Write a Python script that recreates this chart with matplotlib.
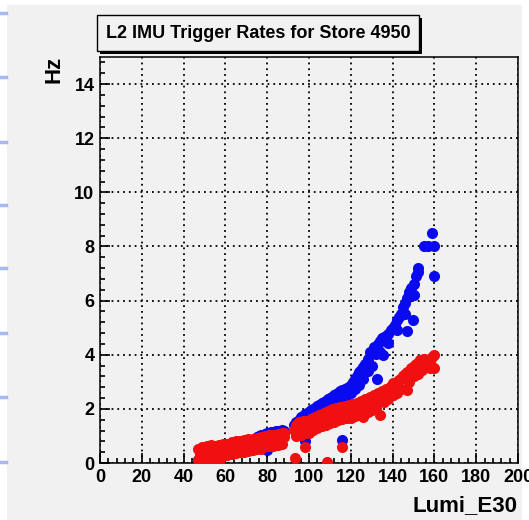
import matplotlib
matplotlib.use('Agg')
import matplotlib.pyplot as plt
from matplotlib.patches import Rectangle
from matplotlib.lines import Line2D
from matplotlib.ticker import MultipleLocator

plt.rcParams['font.family'] = ['Liberation Sans', 'DejaVu Sans']
plt.rcParams['font.weight'] = 'bold'

title = 'L2 IMU Trigger Rates for Store 4950'
x_title = 'Lumi_E30'
y_title = 'Hz'

# blue series
blue_x = [47, 48, 49, 50, 51, 52, 53, 54, 55, 56, 57, 58, 59, 60, 62, 64, 66, 68, 70, 72,
          74, 75, 76, 77, 78, 79, 80, 80, 81, 82, 83, 84, 85, 86, 87, 88,
          93, 94, 95, 96, 97, 98, 99, 100, 101, 102, 103, 104, 105, 106, 107, 108, 109, 110,
          111, 112, 113, 114, 115, 116, 117, 118, 119, 120, 121, 122, 123, 124, 125, 126, 127,
          128, 129, 130, 131, 132, 132.4, 133, 134, 135, 135.6, 136, 137, 138, 139, 140, 141,
          142, 143, 144, 145, 146, 146.7, 147, 148, 149, 149.6, 150, 151, 152, 152,
          155, 157, 159, 160, 160, 98, 115.6,
          94, 96, 98, 100, 102, 104, 106, 108, 110, 112, 114, 116, 118, 120, 122, 124, 126,
          128, 130, 134, 138, 142, 146, 150]
blue_y = [0.10, 0.05, 0.15, 0.08, 0.20, 0.25, 0.30, 0.35, 0.35, 0.40, 0.42, 0.45, 0.48, 0.50,
          0.55, 0.60, 0.65, 0.70, 0.75, 0.80, 0.90, 0.95, 1.00, 1.02, 1.05, 1.08, 1.10, 0.48,
          1.12, 1.15, 1.15, 1.18, 1.20, 1.20, 1.22, 1.20,
          1.40, 1.52, 1.60, 1.70, 1.74, 1.80, 1.84, 1.88, 1.95, 2.00, 2.05, 2.10, 2.15, 2.20,
          2.25, 2.30, 2.35, 2.40, 2.44, 2.50, 2.55, 2.60, 2.65, 2.70, 2.75, 2.78, 2.82, 2.90,
          3.00, 3.10, 3.20, 3.35, 3.45, 3.55, 3.65, 3.85, 4.10, 4.05, 4.30, 4.04, 3.10, 4.40,
          4.50, 4.60, 4.00, 4.65, 4.70, 4.78, 4.90, 5.00, 5.10, 5.27, 5.40, 5.50, 5.75, 5.90,
          4.87, 6.10, 6.30, 6.45, 5.30, 6.60, 6.90, 7.20, 7.05,
          8.00, 8.00, 8.50, 8.00, 6.90, 0.80, 0.85,
          1.40, 1.50, 1.62, 1.60, 1.72, 1.85, 1.95, 2.05, 2.12, 2.20, 2.30, 2.40, 2.50, 2.60,
          2.75, 2.90, 3.10, 3.40, 3.60, 4.10, 4.45, 4.90, 5.50, 6.20]

# red series
red_x = [47, 49, 51, 53, 55, 57, 59, 61, 63, 65, 67, 69, 71, 73, 75, 77, 79, 81, 83, 85, 87, 88,
         48, 50, 52, 54, 56, 58, 60, 62, 64, 66, 68, 70, 72, 74, 76, 78, 80, 82, 84, 86, 88,
         47, 49, 51, 53, 55, 56, 57, 59, 61, 63, 65, 67, 69, 71, 73, 75, 77, 79, 81, 83, 85, 87,
         93, 94, 94, 95, 96, 96, 97, 98, 98, 99, 100, 100, 101, 102, 102, 103, 104, 104, 105,
         106, 106, 107, 108, 109, 110, 110, 111, 112, 113, 114, 115, 116, 117, 118, 119, 120,
         121, 122, 122.8, 124, 125, 126, 127, 128, 129, 130, 131, 132, 133, 134, 134, 135, 136,
         137, 138, 139, 140, 140.3, 141, 142, 143, 144, 145, 146, 146.7, 147, 148, 149, 150,
         151, 152, 153, 154, 155, 156, 157, 158, 159, 160, 160,
         94, 96, 98, 100, 102, 104, 106, 108, 110, 112, 114, 116, 118, 120, 122, 124, 128,
         130, 132, 136, 138, 140, 142, 144, 148, 150, 152, 154, 156, 158,
         95, 97, 99, 101, 103, 105, 107, 109, 111, 113, 115, 117, 119, 121, 123, 125, 127,
         129, 131, 133, 135, 137, 139, 141, 143, 145, 147, 149, 151, 153, 155, 157, 159,
         93.3, 108.5, 98, 115.6]
red_y = [0.50, 0.58, 0.62, 0.65, 0.62, 0.68, 0.70, 0.72, 0.76, 0.80, 0.82, 0.85, 0.88, 0.90,
         0.93, 0.96, 0.98, 1.02, 1.05, 1.08, 1.10, 1.12,
         0.35, 0.40, 0.42, 0.40, 0.45, 0.48, 0.52, 0.55, 0.58, 0.62, 0.65, 0.68, 0.70, 0.74,
         0.76, 0.80, 0.82, 0.86, 0.88, 0.92, 0.95,
         0.12, 0.10, 0.15, 0.18, 0.10, 0.05, 0.02, 0.25, 0.30, 0.32, 0.36, 0.40, 0.42, 0.45,
         0.48, 0.50, 0.52, 0.62, 0.64, 0.62, 0.65, 0.70,
         1.22, 1.40, 1.10, 1.30, 1.45, 1.15, 1.46, 1.35, 1.55, 1.40, 1.50, 1.30, 1.60, 1.65,
         1.45, 1.55, 1.70, 1.50, 1.62, 1.75, 1.55, 1.77, 1.65, 1.80, 1.70, 1.88, 1.89, 1.75,
         1.92, 1.85, 1.95, 1.80, 2.00, 2.00, 1.85, 2.05, 2.10, 1.95, 2.14, 2.20, 2.05, 1.70,
         2.26, 2.15, 2.30, 2.38, 2.25, 2.40, 2.45, 2.50, 1.77, 2.40, 2.60, 2.69, 2.75, 2.80,
         2.94, 2.50, 2.85, 3.00, 3.06, 3.10, 3.20, 3.30, 2.69, 3.25, 3.35, 3.45, 3.60, 3.50,
         3.70, 3.80, 3.75, 3.85, 3.70, 3.65, 3.75, 3.55, 3.98, 3.50,
         0.98, 1.05, 1.12, 1.10, 1.22, 1.30, 1.35, 1.40, 1.48, 1.52, 1.58, 1.62, 1.66, 1.68,
         1.75, 1.80, 1.90, 1.95, 2.05, 2.25, 2.35, 2.50, 2.60, 2.75, 3.00, 3.20, 3.30, 3.45,
         3.55, 3.50,
         1.50, 1.55, 1.52, 1.62, 1.70, 1.78, 1.85, 1.92, 1.98, 2.02, 2.08, 2.10, 2.14, 2.18,
         2.22, 2.28, 2.35, 2.42, 2.50, 2.58, 2.65, 2.75, 2.85, 2.95, 3.06, 3.20, 3.35, 3.50,
         3.65, 3.80, 3.85, 3.80, 3.90,
         0.17, 0.05, 0.58, 0.60]

canvas = '#f1f1f1'
W, H = 529, 520
fig = plt.figure(figsize=(W / 100, H / 100), dpi=100, facecolor='white')
fig.patches.append(Rectangle((7 / W, 0), (522 - 7) / W, 1 - 5 / H, transform=fig.transFigure,
                             facecolor=canvas, edgecolor='none', zorder=-10))
# light blue page marks on the left border
for yy in [13, 77, 142, 205, 268, 333, 397, 462]:
    fig.add_artist(Line2D([0, 6 / W], [1 - yy / H] * 2, color='#a8b8f0', lw=2.5))

ax = fig.add_axes([100 / W, 57 / H, 418 / W, 406 / H])
ax.set_facecolor(canvas)

ax.plot(blue_x, blue_y, 'o', color='#0a0af0', markersize=8, markeredgewidth=0, zorder=3)
ax.plot(red_x, red_y, 'o', color='#f01010', markersize=8, markeredgewidth=0, zorder=4)

ax.set_xlim(0, 200)
ax.set_ylim(0, 15)
ax.xaxis.set_major_locator(MultipleLocator(20))
ax.xaxis.set_minor_locator(MultipleLocator(4))
ax.yaxis.set_major_locator(MultipleLocator(2))
ax.yaxis.set_minor_locator(MultipleLocator(0.4))
ax.tick_params(which='both', direction='in', width=1.2, labelsize=13, pad=4,
               top=False, right=False)
ax.tick_params(which='major', length=7)
ax.tick_params(which='minor', length=3.5)
ax.grid(True, which='major', color='black', linestyle=(0, (1, 2.2)), linewidth=1.3)
for s in ax.spines.values():
    s.set_linewidth(1.1)
for lab in ax.get_xticklabels() + ax.get_yticklabels():
    lab.set_fontweight('bold')

# axis titles, ROOT style
fig.text(517 / W, 1 - 511 / H, x_title, ha='right', va='baseline', fontsize=16,
         fontweight='bold')
fig.text(54 / W, 1 - 56 / H, y_title, ha='center', va='top', rotation=90, fontsize=16,
         fontweight='bold')

# title box with shadow
bx, by, bw, bh = 97 / W, 1 - 51 / H, 322 / W, 36 / H
fig.patches.append(Rectangle((bx + 3 / W, by - 3 / H), bw, bh, transform=fig.transFigure,
                             facecolor='black', edgecolor='none', zorder=5))
fig.patches.append(Rectangle((bx, by), bw, bh, transform=fig.transFigure,
                             facecolor=canvas, edgecolor='black', lw=1.0, zorder=6))
fig.text(bx + bw / 2, by + bh / 2, title, ha='center', va='center', fontsize=13,
         fontweight='bold', zorder=7)

fig.savefig('out.png', dpi=100, facecolor=fig.get_facecolor())
